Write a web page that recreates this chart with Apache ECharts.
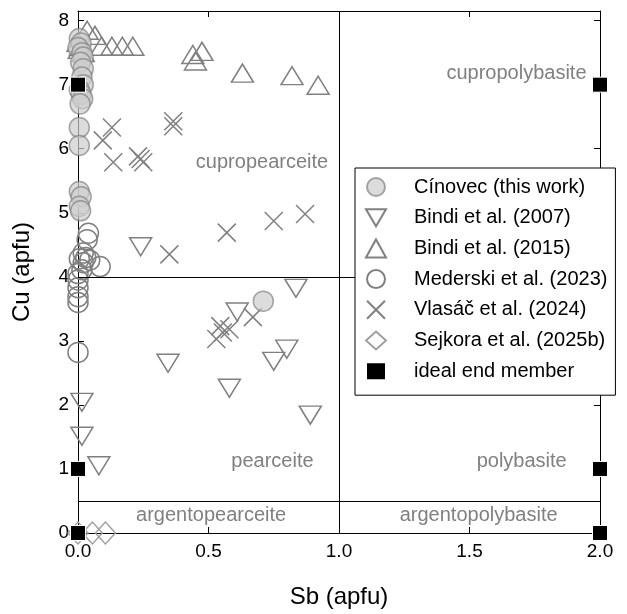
<!DOCTYPE html>
<html>
<head>
<meta charset="utf-8">
<script src="https://cdn.jsdelivr.net/npm/echarts@6/dist/echarts.min.js"></script>
<style>
  html, body { margin: 0; padding: 0; background: #fff; }
  #chart { width: 627px; height: 614px; }
</style>
</head>
<body>
<div id="chart"></div>
<script>
// Sb (apfu), Cu (apfu)
const cinovec = [[0.005,7.72],[0.012,7.65],[0.0,7.58],[0.015,7.5],[0.02,7.43],[0.01,7.35],[0.02,7.25],[0.015,7.12],[0.02,7.0],[0.005,6.92],[0.012,6.85],[0.018,6.78],[0.008,6.7],[0.005,6.33],[0.005,6.05],[0.005,5.33],[0.012,5.25],[0.005,5.1],[0.01,5.03],[0.71,3.62]];
const bindi2007 = [[0.24,4.47],[0.345,2.65],[0.58,2.26],[0.61,3.45],[0.835,3.82],[0.80,2.87],[0.75,2.68],[0.89,1.84],[0.015,2.04],[0.015,1.51],[0.08,1.05]];
const bindi2015 = [[0.035,7.85],[0.065,7.77],[0.0,7.66],[0.01,7.6],[0.005,7.55],[0.02,7.5],[0.09,7.6],[0.13,7.6],[0.17,7.6],[0.21,7.6],[0.44,7.47],[0.475,7.52],[0.45,7.37],[0.63,7.18],[0.82,7.14],[0.92,6.99]];
const mederski = [[0.04,4.68],[0.035,4.58],[0.02,4.37],[0.03,4.3],[0.005,4.28],[0.045,4.26],[0.02,4.22],[0.085,4.16],[0.015,4.11],[0.0,4.05],[0.0,3.95],[0.0,3.83],[0.0,3.69],[0.0,3.6],[0.0,2.82]];
const vlasac = [[0.13,6.33],[0.095,6.13],[0.135,5.79],[0.23,5.88],[0.25,5.79],[0.24,5.84],[0.365,6.43],[0.365,6.35],[0.35,4.35],[0.57,4.69],[0.75,4.87],[0.87,4.98],[0.67,3.37],[0.58,3.18],[0.545,3.23],[0.53,3.03],[0.555,3.13]];
const sejkora = [[0.0,0.0],[0.055,0.0],[0.105,0.0]];
const ideal = [[0,7],[0,1],[0,0],[2,7],[2,1],[2,0]];

// field boundaries
const boundaries = [
  [[1,0],[1,8.15]],
  [[0,4],[2,4]],
  [[0,0.5],[2,0.5]]
];
const fieldNames = [
  {name: 'cupropearceite', value: [0.705,5.78]},
  {name: 'cupropolybasite', value: [1.68,7.18]},
  {name: 'pearceite', value: [0.745,1.12]},
  {name: 'polybasite', value: [1.70,1.12]},
  {name: 'argentopearceite', value: [0.51,0.28]},
  {name: 'argentopolybasite', value: [1.535,0.28]}
];
const seriesNames = ['Cínovec (this work)','Bindi et al. (2007)','Bindi et al. (2015)','Mederski et al. (2023)','Vlasáč et al. (2024)','Sejkora et al. (2025b)','ideal end member'];

const FONT = 'Liberation Sans, Arial, sans-serif';
const GREY = '#808080';
const hollow = {color: 'rgba(0,0,0,0)', borderColor: GREY, borderWidth: 1.5, opacity: 1};

const chart = echarts.init(document.getElementById('chart'));

chart.setOption({
  animation: false,
  textStyle: {fontFamily: FONT},
  grid: {left: 78, right: 27, top: 11, bottom: 80},
  legend: {
    orient: 'vertical',
    left: 355, top: 168,
    padding: [9, 8, 14, 10],
    itemWidth: 20, itemHeight: 18,
    itemGap: 10.7,
    backgroundColor: '#fff',
    borderColor: '#000', borderWidth: 1,
    borderRadius: 0,
    textStyle: {fontSize: 20, color: '#000', fontFamily: FONT, padding: [0,0,0,23], lineHeight: 18},
    data: seriesNames,
    z: 10
  },
  xAxis: [{
    type: 'value', min: 0, max: 2, interval: 0.5,
    name: 'Sb (apfu)', nameLocation: 'middle', nameGap: 52,
    nameTextStyle: {fontSize: 24, color: '#000'},
    axisLine: {onZero: false, lineStyle: {color: '#000', width: 1}},
    axisTick: {inside: true, length: 6, lineStyle: {color: '#000'}},
    axisLabel: {fontSize: 19, color: '#000', margin: 9, formatter: v => v.toFixed(1)},
    splitLine: {show: false}
  }, {
    type: 'value', position: 'top', min: 0, max: 2, interval: 0.5,
    axisLine: {onZero: false, lineStyle: {color: '#000', width: 1}},
    axisTick: {inside: true, length: 6, lineStyle: {color: '#000'}},
    axisLabel: {show: false},
    splitLine: {show: false}
  }],
  yAxis: [{
    type: 'value', min: 0, max: 8.15, interval: 1,
    name: 'Cu (apfu)', nameLocation: 'middle', nameGap: 44,
    nameTextStyle: {fontSize: 24, color: '#000'},
    axisLine: {onZero: false, lineStyle: {color: '#000', width: 1}},
    axisTick: {inside: true, length: 6, lineStyle: {color: '#000'}},
    axisLabel: {fontSize: 19, color: '#000', margin: 9, formatter: v => Number.isInteger(v) ? String(v) : ''},
    splitLine: {show: false}
  }, {
    type: 'value', position: 'right', min: 0, max: 8.15, interval: 1,
    axisLine: {onZero: false, lineStyle: {color: '#000', width: 1}},
    axisTick: {inside: true, length: 6, lineStyle: {color: '#000'}},
    axisLabel: {show: false},
    splitLine: {show: false}
  }],
  series: [
    {
      name: 'fields', type: 'scatter', data: fieldNames, symbolSize: 0, clip: false,
      itemStyle: {opacity: 1},
      label: {show: true, formatter: '{b}', position: 'inside', fontSize: 20, color: GREY, fontFamily: FONT},
      markLine: {
        silent: true, symbol: 'none', label: {show: false},
        lineStyle: {color: '#000', width: 1, type: 'solid', opacity: 1},
        data: boundaries.map(b => [{coord: b[0]}, {coord: b[1]}])
      }
    },
    {
      name: seriesNames[3], type: 'scatter', data: mederski, clip: false,
      symbol: 'circle', symbolSize: 20, itemStyle: hollow
    },
    {
      name: seriesNames[4], type: 'scatter', data: vlasac, clip: false,
      symbol: 'path://M0,0L10,10M10,0L0,10', symbolSize: 18, itemStyle: hollow
    },
    {
      name: seriesNames[1], type: 'scatter', data: bindi2007, clip: false,
      symbol: 'path://M0,0L20,0L10,17Z', symbolSize: [22, 18], itemStyle: hollow
    },
    {
      name: seriesNames[2], type: 'scatter', data: bindi2015, clip: false,
      symbol: 'triangle', symbolSize: [22, 18], itemStyle: hollow
    },
    {
      name: seriesNames[5], type: 'scatter', data: sejkora, clip: false,
      symbol: 'diamond', symbolSize: [20, 22],
      itemStyle: {color: 'rgba(0,0,0,0)', borderColor: '#a0a0a0', borderWidth: 1.5, opacity: 1}
    },
    {
      name: seriesNames[0], type: 'scatter', data: cinovec, clip: false,
      symbol: 'circle', symbolSize: 20,
      itemStyle: {color: 'rgba(205,205,205,0.7)', borderColor: 'rgba(130,130,130,0.7)', borderWidth: 1.5, opacity: 1}
    },
    {
      name: seriesNames[6], type: 'scatter', data: ideal, clip: false,
      symbol: 'rect', symbolSize: 15, itemStyle: {color: '#000', borderColor: '#fff', borderWidth: 1, opacity: 1}
    }
  ]
});
</script>
</body>
</html>
